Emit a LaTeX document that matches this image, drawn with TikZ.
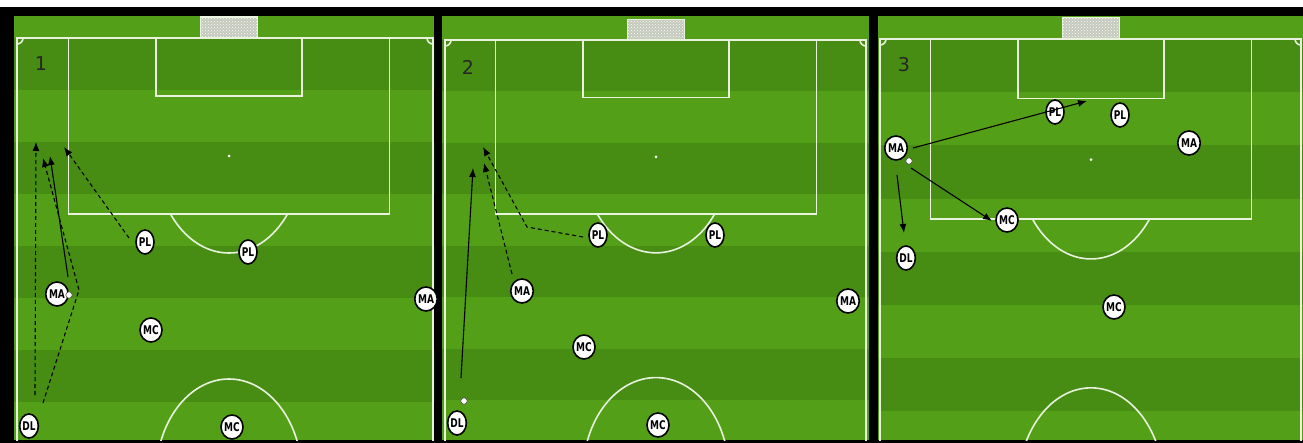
\documentclass[tikz,border=0pt]{standalone}
\usepackage{fontspec}
\setsansfont{DejaVu Sans}
\newfontfamily\playerfont{DejaVu Sans}[FakeStretch=0.75]
\usepackage{tikz}
\usetikzlibrary{arrows.meta,shapes.geometric,patterns}
\definecolor{pitchlight}{HTML}{53A018}
\definecolor{pitchdark}{HTML}{478C13}
\definecolor{pitchwhite}{HTML}{E8F2DC}
\definecolor{netgray}{HTML}{C4C9BC}
\tikzset{
  player/.style={ellipse,draw=black,line width=1.6pt,fill=white,inner sep=0pt,minimum width=18pt,minimum height=24pt,font=\playerfont\bfseries\fontsize{12}{12}\selectfont},
  ball/.style={circle,draw=black!70,line width=0.6pt,fill=white,inner sep=0pt,minimum size=6.5pt},
  panelno/.style={inner sep=0pt,text=black!85,font=\sffamily\fontsize{19}{19}\selectfont},
  pitchline/.style={draw=pitchwhite,line width=1.6pt},
  net/.style={fill=netgray,draw=pitchwhite,line width=1.2pt,postaction={pattern=crosshatch dots,pattern color=white}},
  passline/.style={-{Latex[length=9pt,width=7pt]},line width=1.1pt,draw=black},
  runline/.style={passline,dash pattern=on 4pt off 3pt}
}
% #1,#2 panel edges, #3 left line, #4 centre, #5 right line, #6 goal line, #7 yscale
\newcommand{\pitchpanel}[7]{%
  \begin{scope}
    \clip (#1,16) rectangle (#2,440);
    \fill[pitchlight] (#1,16) rectangle (#2,440);
    \begin{scope}[shift={(#4,#6)},yscale=#7]
      \foreach \k in {0,...,3}
        \fill[pitchdark] (-260,104*\k) rectangle (260,104*\k+52);
      \draw[net] (-28.5,-21) rectangle (28.5,0);
      \draw[pitchline] (-160.5,0) rectangle (160.5,176);
      \draw[pitchline] (-73,0) rectangle (73,58);
      \fill[white] (0,118) circle[radius=1.5];
      \begin{scope}
        \clip (-100,176.8) rectangle (100,300);
        \draw[pitchline] (0,118) ellipse[x radius=73,y radius=97];
      \end{scope}
      \draw[pitchline] (0,438) ellipse[x radius=73,y radius=97];
    \end{scope}
    \draw[pitchline] (#3,450) -- (#3,#6) -- (#5,#6) -- (#5,450);
    \begin{scope}
      \clip (#3,#6) rectangle (#5,450);
      \draw[pitchline] (#3,#6) circle[radius=6] (#5,#6) circle[radius=6];
    \end{scope}
  \end{scope}
}

\begin{document}
\begin{tikzpicture}[x=1pt,y=-1pt]
\useasboundingbox (0,0) rectangle (1303,443);
\fill[white] (0,0) rectangle (1303,443);
\fill[black] (0,7) rectangle (1303,443);
\pitchpanel{14}{434}{17}{229}{433}{38}{1}
\pitchpanel{442}{869}{445}{656}{866}{40}{0.99}
\pitchpanel{878}{1303}{880}{1091}{1301}{39}{1.023}

\node[panelno] (no1) at (41,64) {1};
\node[panelno] (no2) at (468,67) {2};
\node[panelno] (no3) at (904,65) {3};

\node[player] (pl1a) at (145,242) {PL};
\node[player] (pl1b) at (248,252) {PL};
\node[player] (ma1a) at (57,294) {MA};
\node[player] (ma1b) at (426,299) {MA};
\node[player] (mc1a) at (151,330) {MC};
\node[player] (mc1b) at (232,427) {MC};
\node[player] (dl1) at (29,426) {DL};
\node[ball] (ball1) at (69,295) {};

\node[player] (pl2a) at (598,235) {PL};
\node[player] (pl2b) at (715,235) {PL};
\node[player] (ma2a) at (522,291) {MA};
\node[player] (ma2b) at (848,301) {MA};
\node[player] (mc2a) at (584,347) {MC};
\node[player] (mc2b) at (658,425) {MC};
\node[player] (dl2) at (457,423) {DL};
\node[ball] (ball2) at (464,401) {};

\node[player] (ma3a) at (896,148) {MA};
\node[player] (pl3a) at (1055,112) {PL};
\node[player] (pl3b) at (1120,115) {PL};
\node[player] (ma3b) at (1189,143) {MA};
\node[player] (mc3a) at (1007,220) {MC};
\node[player] (dl3) at (906,258) {DL};
\node[player] (mc3b) at (1114,307) {MC};
\node[ball] (ball3) at (909,161) {};

\coordinate (dl1up) at (35,395);
\coordinate (dl1upend) at (36,142);
\coordinate (dl1run) at (43,403);
\coordinate (dl1bend) at (79,290);
\coordinate (dl1runend) at (43,158);
\coordinate (ma1pass) at (68,277);
\coordinate (ma1passend) at (50,156);
\coordinate (pl1run) at (129,238);
\coordinate (pl1runend) at (64,147);
\draw[runline] (dl1up) -- (dl1upend);
\draw[runline] (dl1run) -- (dl1bend) -- (dl1runend);
\draw[passline] (ma1pass) -- (ma1passend);
\draw[runline] (pl1run) -- (pl1runend);

\coordinate (dl2pass) at (461,378);
\coordinate (dl2passend) at (473,168);
\coordinate (ma2run) at (512,274);
\coordinate (ma2runend) at (484,163);
\coordinate (pl2run) at (583,237);
\coordinate (pl2bend) at (527,227);
\coordinate (pl2runend) at (483,147);
\draw[passline] (dl2pass) -- (dl2passend);
\draw[runline] (ma2run) -- (ma2runend);
\draw[runline] (pl2run) -- (pl2bend) -- (pl2runend);

\coordinate (ma3long) at (913,148);
\coordinate (ma3longend) at (1087,101);
\coordinate (ma3mid) at (911,168);
\coordinate (ma3midend) at (992,221);
\coordinate (ma3short) at (897,175);
\coordinate (ma3shortend) at (904,233);
\draw[passline] (ma3long) -- (ma3longend);
\draw[passline] (ma3mid) -- (ma3midend);
\draw[passline] (ma3short) -- (ma3shortend);
\end{tikzpicture}
\end{document}
